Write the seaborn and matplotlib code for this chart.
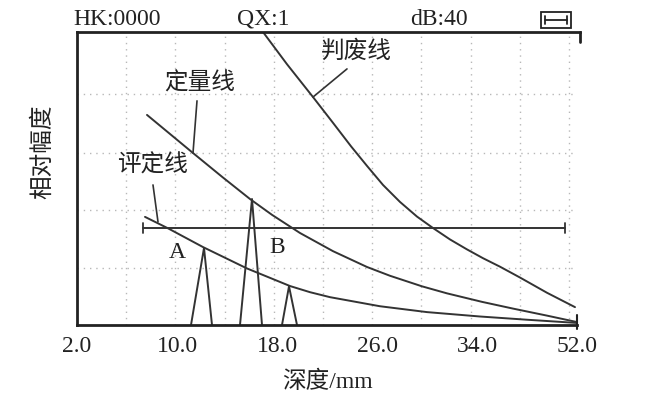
import numpy as np
import pandas as pd
import matplotlib.pyplot as plt
import seaborn as sns

# depth tick labels (evenly spaced on the screen, not to scale)
depth_labels = ['2.0', '10.0', '18.0', '26.0', '34.0', '52.0']

# DAC curves: x in tick-index units, y in % of screen height
reject_x = [1.86, 2.10, 2.36, 2.56, 2.74, 2.90, 3.06, 3.23, 3.40, 3.56, 3.73,
            3.90, 4.06, 4.23, 4.43, 4.70, 4.98]
reject_y = [100.0, 89.0, 77.8, 69.0, 61.0, 54.3, 47.8, 42.0, 37.0, 33.1, 29.2,
            25.8, 22.8, 19.9, 16.2, 11.0, 6.1]

quant_x = [0.70, 0.93, 1.16, 1.45, 1.73, 1.95, 2.23, 2.56, 2.90, 3.13, 3.45,
           3.70, 4.05, 4.36, 4.70, 5.00]
quant_y = [71.7, 65.2, 58.7, 50.6, 43.0, 37.6, 31.4, 25.2, 19.8, 16.8, 13.2,
           10.8, 7.9, 5.6, 3.2, 1.0]

eval_x = [0.68, 0.91, 1.26, 1.70, 2.13, 2.33, 2.53, 3.03, 3.50, 4.03, 4.50, 5.00]
eval_y = [36.9, 33.0, 26.6, 19.3, 13.3, 11.2, 9.5, 6.4, 4.4, 2.9, 1.8, 0.7]

# echo peaks: left base, apex, right base
peak_a_x = [1.14, 1.27, 1.35]
peak_a_y = [0.0, 26.3, 0.0]
peak_b_x = [1.63, 1.75, 1.85]
peak_b_y = [0.0, 43.0, 0.0]
peak_c_x = [2.05, 2.12, 2.20]
peak_c_y = [0.0, 13.2, 0.0]

# gate bar
gate_x = [0.66, 4.88]
gate_y = [33.1, 33.1]

sns.set_theme(style='white')
plt.rcParams['font.family'] = ['Liberation Serif', 'Noto Sans CJK SC', 'DejaVu Sans']

ink = '#333333'
txt = '#222222'
fig = plt.figure(figsize=(6.56, 3.97), dpi=100)
ax = fig.add_axes([77 / 656, 72 / 397, 500 / 656, 293 / 397])

# dotted screen grid
for gx in np.arange(1, 11) * 0.492:
    ax.axvline(gx, color='#b8b8b8', lw=1.0, ls=(0, (1, 3.5)), zorder=0)
for gy in [19.5, 39.2, 58.7, 78.8]:
    ax.axhline(gy, color='#b8b8b8', lw=1.0, ls=(0, (1, 3.5)), zorder=0)

for xs, ys in [(reject_x, reject_y), (quant_x, quant_y), (eval_x, eval_y),
               (peak_a_x, peak_a_y), (peak_b_x, peak_b_y), (peak_c_x, peak_c_y)]:
    sns.lineplot(x=xs, y=ys, ax=ax, color=ink, lw=1.4, sort=False, estimator=None)

sns.lineplot(x=gate_x, y=gate_y, ax=ax, color=ink, lw=1.4, sort=False, estimator=None)
for gx in gate_x:
    ax.plot([gx, gx], [31.3, 34.9], color=ink, lw=1.3)

# curve names with leader lines
ax.text(2.79, 93.2, '判废线', fontsize=17, ha='center', va='center', color=txt)
ax.plot([2.70, 2.36], [87.4, 77.8], color=ink, lw=1.2)
ax.text(1.23, 82.6, '定量线', fontsize=17, ha='center', va='center', color=txt)
ax.plot([1.20, 1.16], [76.5, 58.7], color=ink, lw=1.2)
ax.text(0.75, 54.6, '评定线', fontsize=17, ha='center', va='center', color=txt)
ax.plot([0.76, 0.81], [47.8, 35.2], color=ink, lw=1.2)
ax.text(1.00, 24.6, 'A', fontsize=17, ha='center', va='center', color=txt)
ax.text(2.00, 26.3, 'B', fontsize=17, ha='center', va='center', color=txt)

ax.set_xlim(0, 5)
ax.set_ylim(0, 100)
ax.set_xticks(range(len(depth_labels)))
ax.set_xticklabels(depth_labels, fontsize=17, color=txt)
ax.set_yticks([])
ax.tick_params(axis='x', length=0, pad=8)
ax.set_xlabel('深度/mm', fontsize=17, color=txt, labelpad=10)
ax.set_ylabel('相对幅度', fontsize=17, color=txt)
ax.yaxis.set_label_coords(-0.046, 0.59)

for side in ['left', 'top', 'bottom']:
    ax.spines[side].set_color(txt)
    ax.spines[side].set_linewidth(2.0)
ax.spines['right'].set_visible(False)
ax.spines['top'].set_bounds(0, 5.03)
ax.plot([5.03, 5.03], [100, 96.5], color=txt, lw=2.0, clip_on=False)
ax.plot([5.0, 5.0], [-1.5, 3.5], color=txt, lw=1.5, clip_on=False)

# status line above the screen
ax.text(-0.04, 100.8, 'HK:0000', fontsize=17, ha='left', va='bottom', color=txt)
ax.text(1.60, 100.8, 'QX:1', fontsize=17, ha='left', va='bottom', color=txt)
ax.text(3.33, 100.8, 'dB:40', fontsize=17, ha='left', va='bottom', color=txt)
ax.add_patch(plt.Rectangle((4.64, 101.5), 0.30, 5.3, fill=False, ec=txt, lw=1.3, clip_on=False))
ax.plot([4.68, 4.90], [104.2, 104.2], color=txt, lw=1.3, clip_on=False)
for bx in [4.68, 4.90]:
    ax.plot([bx, bx], [102.8, 105.6], color=txt, lw=1.3, clip_on=False)

fig.savefig('out.png', dpi=100)
